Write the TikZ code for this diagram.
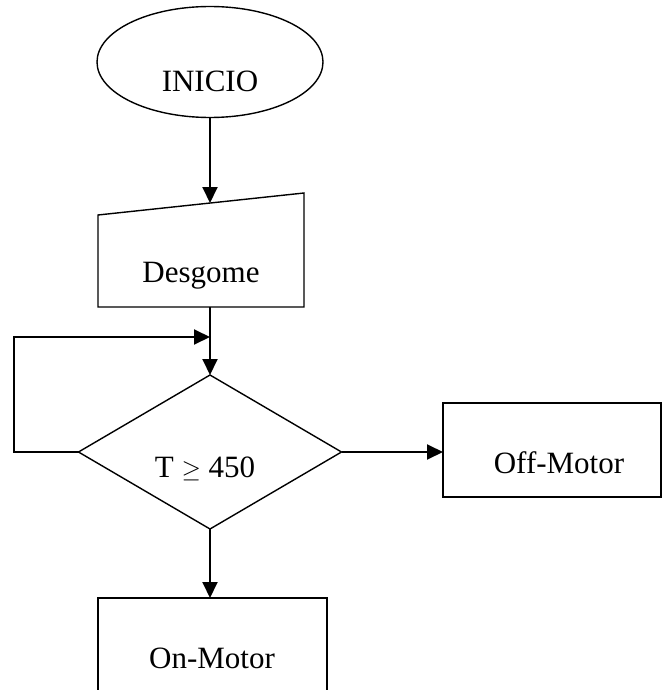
\documentclass[tikz,border=0pt]{standalone}
\usepackage{fontspec}
\setmainfont{Liberation Serif}
\usetikzlibrary{arrows.meta,shapes.geometric}
\begin{document}
\begin{tikzpicture}[x=1pt,y=-1pt,
  shapeline/.style={draw,line width=1.4pt,inner sep=0pt,outer sep=0pt},
  flow/.style={line width=1.9pt,-{Triangle[length=16pt,width=15pt]}},
  lbl/.style={font=\fontsize{31}{31}\selectfont,anchor=base,inner sep=0pt}]
\clip (0,0) rectangle (666,690);
% start terminal
\node[shapeline,ellipse,minimum width=226pt,minimum height=111pt] (start) at (210,62) {};
\node[lbl] (starttxt) at (210,92) {INICIO};
% manual input block
\draw[line width=1.4pt] (98,215) coordinate (inTL) -- (304,193) coordinate (inTR)
  -- (304,307) coordinate (inBR) -- (98,307) coordinate (inBL) -- cycle;
\coordinate (inTop) at (210,203);
\coordinate (inBot) at (210,307);
\node[lbl] (intxt) at (201,282) {Desgome};
% decision
\node[shapeline,diamond,minimum width=263pt,minimum height=154pt] (test) at (210,452) {};
\node[lbl] (testtxt) at (205,477) {T $\geq$ 450};
% outcome boxes
\node[shapeline,rectangle,minimum width=218pt,minimum height=94pt] (off) at (552,450) {};
\node[lbl] (offtxt) at (559,473) {Off-Motor};
\node[shapeline,rectangle,minimum width=229pt,minimum height=104pt] (on) at (212.5,650) {};
\node[lbl] (ontxt) at (212,668) {On-Motor};
% connectors
\coordinate (join) at (210,337);
\draw[flow] (start.south) -- (inTop);
\draw[flow] (inBot) -- (test.north);
\draw[flow] (test.west) -- (14,452) -- (14,337) -- (join);
\draw[flow] (test.east) -- (test.east -| off.west);
\draw[flow] (test.south) -- (test.south |- on.north);
\end{tikzpicture}
\end{document}
